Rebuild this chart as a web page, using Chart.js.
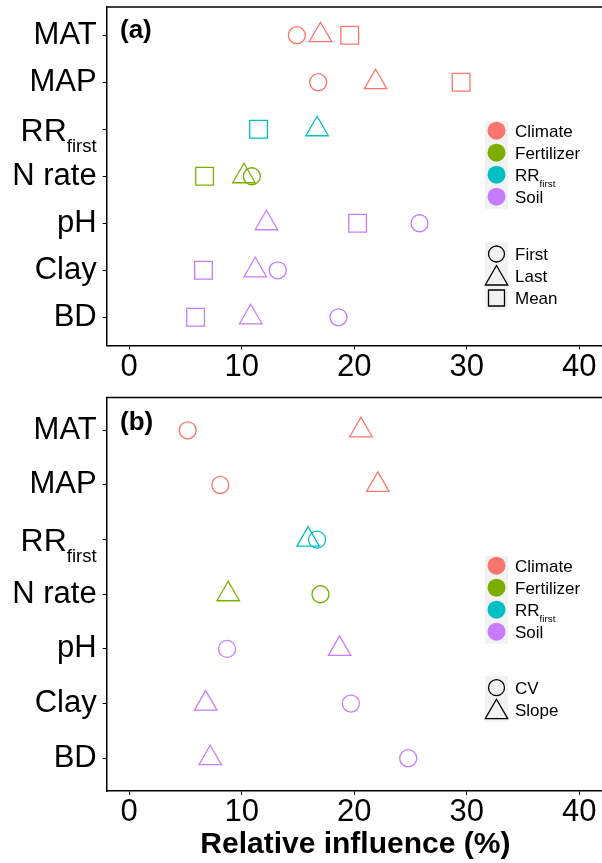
<!DOCTYPE html>
<html>
<head>
<meta charset="utf-8">
<title>Relative influence</title>
<script src="https://cdn.jsdelivr.net/npm/chart.js@4.4.0/dist/chart.umd.min.js"></script>
<style>
    html, body { margin: 0; padding: 0; background: #fff; overflow: hidden; }
    canvas { position: absolute; left: 0; }
    #chartA { top: 0; }
    #chartB { top: 385px; }
</style>
</head>
<body>
<canvas id="chartA" width="640" height="385"></canvas>
<canvas id="chartB" width="640" height="478"></canvas>
<script>
// categories (top to bottom)
const variables = ['MAT', 'MAP', 'RR_first', 'N rate', 'pH', 'Clay', 'BD'];
const variableGroup = ['Climate', 'Climate', 'RR_first', 'Fertilizer', 'Soil', 'Soil', 'Soil'];
const groups = ['Climate', 'Fertilizer', 'RR_first', 'Soil'];
const groupColors = ['#F8766D', '#7CAE00', '#00BFC4', '#C77CFF'];
const xTicks = [0, 10, 20, 30, 40];

// panel (a): relative influence (%)
const aFirst = [14.9, 16.8, null, 10.9, 25.8, 13.2, 18.6];
const aLast  = [17.0, 21.9, 16.7, 10.2, 12.2, 11.2, 10.8];
const aMean  = [19.6, 29.5, 11.5, 6.7, 20.3, 6.6, 5.9];

// panel (b)
const bCV    = [5.2, 8.1, 16.7, 17.0, 8.7, 19.7, 24.8];
const bSlope = [20.6, 22.1, 15.9, 8.8, 18.7, 6.8, 7.2];

const fontFamily = '"Liberation Sans", Arial, sans-serif';

function colorFor(ctx) {
    if (!ctx.raw) return '#000';
    return groupColors[groups.indexOf(variableGroup[ctx.raw.y - 1])];
}

function toPoints(values) {
    const pts = [];
    values.forEach((v, i) => { if (v !== null) pts.push({ x: v, y: i + 1 }); });
    return pts;
}

// text with optional "first" subscript; y is the visual middle
function drawLabel(ctx, text, x, y, size, align) {
    const isSub = text === 'RR_first';
    const main = isSub ? 'RR' : text;
    const subSize = size * 0.58;
    ctx.save();
    ctx.fillStyle = '#000';
    ctx.textBaseline = 'alphabetic';
    ctx.textAlign = 'left';
    ctx.font = size + 'px ' + fontFamily;
    const wMain = ctx.measureText(main).width;
    let wSub = 0;
    if (isSub) {
        ctx.font = subSize + 'px ' + fontFamily;
        wSub = ctx.measureText('first').width;
    }
    const x0 = align === 'right' ? x - wMain - wSub : x;
    const base = y + size * 0.36;
    ctx.font = size + 'px ' + fontFamily;
    ctx.fillText(main, x0, base);
    if (isSub) {
        ctx.font = subSize + 'px ' + fontFamily;
        ctx.fillText('first', x0 + wMain, base + size * 0.35);
    }
    ctx.restore();
}

function drawShape(ctx, style, x, y, r) {
    ctx.beginPath();
    if (style === 'circle') {
        ctx.arc(x, y, r, 0, 2 * Math.PI);
    } else if (style === 'triangle') {
        ctx.moveTo(x, y - r);
        ctx.lineTo(x + r * 0.866, y + r / 2);
        ctx.lineTo(x - r * 0.866, y + r / 2);
        ctx.closePath();
    } else {
        const s = r * Math.SQRT1_2;
        ctx.rect(x - s, y - s, 2 * s, 2 * s);
    }
    ctx.stroke();
}

// border top, panel letter, RR subscript tick, and the two keys
function panelDecor(cfg) {
    return {
        id: 'decor',
        afterDraw(chart) {
            const ctx = chart.ctx;
            const area = chart.chartArea;
            const ys = chart.scales.y;

            ctx.save();
            ctx.strokeStyle = '#000';
            ctx.lineWidth = 1.5;
            ctx.beginPath();
            ctx.moveTo(area.left - 0.75, area.top);
            ctx.lineTo(area.right, area.top);
            ctx.stroke();

            ctx.fillStyle = '#000';
            ctx.font = 'bold 26px ' + fontFamily;
            ctx.textAlign = 'left';
            ctx.textBaseline = 'middle';
            ctx.fillText(cfg.letter, 120, cfg.letterY);
            ctx.restore();

            const i = variables.indexOf('RR_first');
            drawLabel(ctx, 'RR_first', ys.right - 10, ys.getPixelForValue(i + 1), 32, 'right');

            // colour key
            const k = cfg.key;
            ctx.save();
            ctx.fillStyle = '#F2F2F2';
            ctx.fillRect(485, k.groupTop - 10, 23, groups.length * k.step);
            groups.forEach((g, j) => {
                const y = k.groupTop + j * k.step;
                ctx.fillStyle = groupColors[j];
                ctx.beginPath();
                ctx.arc(496.5, y, 9, 0, 2 * Math.PI);
                ctx.fill();
                drawLabel(ctx, g, 515, y, 17, 'left');
            });

            // shape key
            ctx.fillStyle = '#F2F2F2';
            ctx.fillRect(485, k.shapeTop - 12, 23, cfg.series.length * k.step + 2);
            ctx.strokeStyle = '#000';
            ctx.lineWidth = 1.3;
            cfg.series.forEach((s, j) => {
                const y = k.shapeTop + j * k.step;
                if (s.style === 'circle') drawShape(ctx, 'circle', 496.5, y, 8);
                else if (s.style === 'triangle') drawShape(ctx, 'triangle', 496.5, y + 2.5, 13);
                else drawShape(ctx, 'rect', 496.5, y, 11.3);
                drawLabel(ctx, s.name, 515, y, 17, 'left');
            });
            ctx.restore();
        }
    };
}

function makePanel(id, cfg) {
    const tickFont = { family: fontFamily, size: 31, lineHeight: 1 };
    new Chart(document.getElementById(id), {
        type: 'scatter',
        data: {
            datasets: cfg.series.map(s => ({
                label: s.name,
                data: toPoints(s.values),
                pointStyle: s.style,
                pointRadius: s.radius,
                pointHoverRadius: s.radius,
                pointBorderWidth: 1.3,
                pointBorderColor: colorFor,
                pointBackgroundColor: 'rgba(0,0,0,0)',
                clip: false
            }))
        },
        options: {
            responsive: false,
            animation: false,
            events: [],
            // right padding puts the open right edge of the panel just past the page edge
            layout: { autoPadding: false, padding: { top: cfg.top, left: 0, right: 36, bottom: 0 } },
            scales: {
                x: {
                    type: 'linear',
                    min: -2,
                    max: 42.2,
                    afterBuildTicks: s => { s.ticks = xTicks.map(v => ({ value: v })); },
                    afterFit: s => { s.height = cfg.xHeight; s.paddingLeft = 0; s.paddingRight = 0; },
                    grid: { drawOnChartArea: false, tickLength: 4, tickColor: '#000', tickWidth: 1 },
                    border: { color: '#000', width: 1.5 },
                    ticks: { color: '#000', font: tickFont, padding: 2, maxRotation: 0, autoSkip: false },
                    title: cfg.xTitle ? {
                        display: true,
                        text: cfg.xTitle,
                        color: '#000',
                        font: { family: fontFamily, size: 30, weight: 'bold', lineHeight: 1 },
                        padding: { top: 0, bottom: 3 }
                    } : { display: false }
                },
                y: {
                    type: 'linear',
                    reverse: true,
                    min: 0.4,
                    max: 7.6,
                    afterBuildTicks: s => { s.ticks = variables.map((v, i) => ({ value: i + 1 })); },
                    afterFit: s => { s.width = 106.7; s.paddingTop = 0; s.paddingBottom = 0; },
                    grid: { drawOnChartArea: false, tickLength: 4, tickColor: '#000', tickWidth: 1 },
                    border: { color: '#000', width: 1.5 },
                    ticks: {
                        callback: v => variables[v - 1],
                        color: ctx => (ctx.tick && variables[ctx.tick.value - 1] === 'RR_first') ? 'rgba(0,0,0,0)' : '#000',
                        font: tickFont,
                        padding: 6,
                        autoSkip: false
                    }
                }
            },
            plugins: { legend: { display: false }, tooltip: { enabled: false } }
        },
        plugins: [panelDecor(cfg)]
    });
}

makePanel('chartA', {
    letter: '(a)', letterY: 31, top: 7, xHeight: 39.5, xTitle: null,
    key: { groupTop: 130.7, shapeTop: 254, step: 22 },
    series: [
        { name: 'First', values: aFirst, style: 'circle', radius: 8.5 },
        { name: 'Last', values: aLast, style: 'triangle', radius: 13 },
        { name: 'Mean', values: aMean, style: 'rect', radius: 12.5 }
    ]
});

makePanel('chartB', {
    letter: '(b)', letterY: 38, top: 12.5, xHeight: 72, xTitle: 'Relative influence (%)',
    key: { groupTop: 180.7, shapeTop: 302.7, step: 22 },
    series: [
        { name: 'CV', values: bCV, style: 'circle', radius: 8.5 },
        { name: 'Slope', values: bSlope, style: 'triangle', radius: 13 }
    ]
});
</script>
</body>
</html>
